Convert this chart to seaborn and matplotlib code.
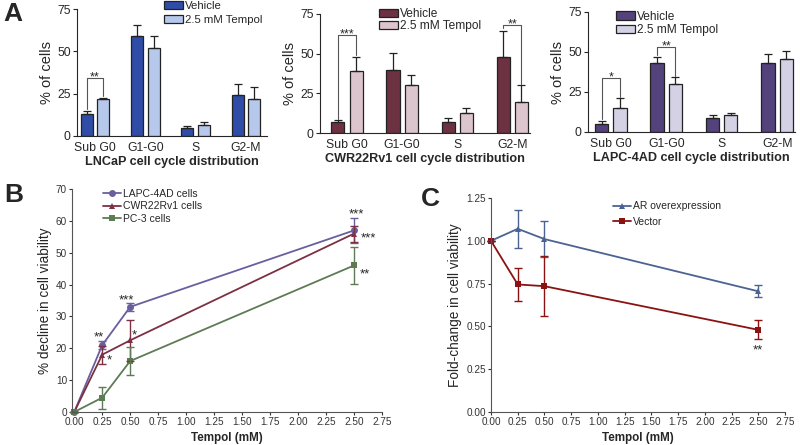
import pandas as pd
import numpy as np
import matplotlib
matplotlib.use("Agg")
import matplotlib.pyplot as plt
import seaborn as sns

sns.set_style("ticks")
plt.rcParams['font.family'] = ['Liberation Sans', 'DejaVu Sans']

# ---- data ----
phases = ['Sub G0', 'G1-G0', 'S', 'G2-M']
treatments = ['Vehicle', '2.5 mM Tempol']

lncap_veh = [13, 59, 4.5, 24]
lncap_veh_err = [2, 6.5, 1.5, 6.5]
lncap_tem = [22, 52, 6.5, 22]
lncap_tem_err = [0.5, 7, 1.5, 7]

cwr_veh = [7, 40, 7, 48]
cwr_veh_err = [1, 10.5, 2.5, 16.5]
cwr_tem = [39, 30, 12.5, 19.5]
cwr_tem_err = [9, 6.5, 3, 10.5]

lapc_veh = [5, 43, 9, 43]
lapc_veh_err = [2, 4, 1.5, 6]
lapc_tem = [15, 30, 10.5, 45.5]
lapc_tem_err = [6, 4.5, 1.5, 5]

# significance brackets: (phase index, top, left leg end, right leg end, stars)
lncap_sig = [(0, 34, 16, 23.5, '**')]
cwr_sig = [(0, 62, 9, 49, '***'), (3, 68, 66, 31, '**')]
lapc_sig = [(0, 34, 8, 22, '*'), (1, 53, 48, 35, '**')]

dose = [0, 0.25, 0.5, 2.5]
b_lines = ['LAPC-4AD cells', 'CWR22Rv1 cells', 'PC-3 cells']
b_lapc = [0, 21, 33, 57]
b_lapc_err = [0, 1.2, 1.2, 4]
b_cwr = [0, 18, 22.5, 56]
b_cwr_err = [0, 2.8, 6.5, 2.5]
b_pc3 = [0, 4.5, 16, 46]
b_pc3_err = [0, 3.5, 4.5, 5.8]
b_stars = [(0.22, 24.5, '**'), (0.31, 17, '*'), (0.47, 36, '***'), (0.54, 25, '*'),
           (2.52, 63, '***'), (2.63, 55.5, '***'), (2.6, 44, '**')]

c_lines = ['AR overexpression', 'Vector']
c_ar = [1.0, 1.07, 1.01, 0.705]
c_ar_err = [0, 0.11, 0.105, 0.035]
c_vec = [1.0, 0.745, 0.735, 0.48]
c_vec_err = [0, 0.095, 0.175, 0.055]
c_stars = [(2.5, 0.375, '**')]

W, H = 800, 445
fig = plt.figure(figsize=(8, 4.45), dpi=100)


def px_axes(l, t, r, b):
    return fig.add_axes([l / W, 1 - b / H, (r - l) / W, (b - t) / H])


def bar_panel(ax, veh, veh_err, tem, tem_err, sig, colors, xlabel, xlim, leg_anchor,
              leg_size, leg_space):
    df = pd.DataFrame({
        'phase': phases * 2,
        'treatment': [treatments[0]] * 4 + [treatments[1]] * 4,
        'pct': veh + tem,
    })
    sns.barplot(data=df, x='phase', y='pct', hue='treatment', hue_order=treatments,
                palette=colors, width=0.66, gap=0.28, edgecolor='#222222',
                linewidth=0.9, errorbar=None, ax=ax, saturation=1)
    centers = []
    for cont, err in zip(ax.containers, [veh_err, tem_err]):
        xs = [p.get_x() + p.get_width() / 2 for p in cont.patches]
        ys = [p.get_height() for p in cont.patches]
        centers.append(xs)
        ax.errorbar(xs, ys, yerr=[np.zeros(len(err)), err], fmt='none',
                    ecolor='#222222', elinewidth=0.9, capsize=3, capthick=0.9, zorder=1)
    for i, top, lo_l, lo_r, s in sig:
        x0, x1 = centers[0][i], centers[1][i]
        ax.plot([x0, x0, x1, x1], [lo_l, top, top, lo_r], color='#555555', lw=0.8)
        ax.annotate(s, ((x0 + x1) / 2, top), xytext=(0, -1.8), textcoords='offset points',
                    ha='center', va='baseline', fontsize=9)
    ax.set_ylim(0, 75)
    ax.set_yticks([0, 25, 50, 75])
    ax.set_xlim(*xlim)
    ax.set_xlabel(xlabel, fontsize=9.1, fontweight='bold', labelpad=1.5)
    ax.set_ylabel('% of cells', fontsize=10.5, labelpad=2)
    ax.tick_params(axis='both', labelsize=8.8, length=3, width=0.8, pad=1.5)
    ax.tick_params(axis='x', length=0, pad=4)
    for sp in ['top', 'right']:
        ax.spines[sp].set_visible(False)
    for sp in ['left', 'bottom']:
        ax.spines[sp].set_linewidth(0.8)
    ax.legend(loc='upper left', bbox_to_anchor=leg_anchor, frameon=False, fontsize=leg_size,
              handlelength=1.6, handleheight=0.7, handletextpad=0.2, labelspacing=leg_space,
              borderaxespad=0, borderpad=0)


ax1 = px_axes(77, 9, 267, 136)
bar_panel(ax1, lncap_veh, lncap_veh_err, lncap_tem, lncap_tem_err, lncap_sig,
          ['#2f4ca6', '#b6c9ec'], 'LNCaP cell cycle distribution', (-0.36, 3.42), (0.46, 1.06),
          8.2, 0.35)
ax2 = px_axes(320, 14, 530, 133)
bar_panel(ax2, cwr_veh, cwr_veh_err, cwr_tem, cwr_tem_err, cwr_sig,
          ['#6d3241', '#dcc5cc'], 'CWR22Rv1 cell cycle distribution', (-0.49, 3.32), (0.28, 1.05),
          8.6, 0.0)
ax3 = px_axes(588, 12, 795, 132)
bar_panel(ax3, lapc_veh, lapc_veh_err, lapc_tem, lapc_tem_err, lapc_sig,
          ['#54427d', '#d5d1e5'], 'LAPC-4AD cell cycle distribution', (-0.41, 3.32), (0.135, 1.01),
          8.6, 0.12)


def line_panel(ax, names, vals, errs, colors, markers, ylabel, ylim, yticks, stars,
               leg_anchor, leg_space):
    df = pd.DataFrame({
        'dose': dose * len(names),
        'val': sum(vals, []),
        'line': sum([[n] * len(dose) for n in names], []),
    })
    sns.lineplot(data=df, x='dose', y='val', hue='line', style='line', hue_order=names,
                 style_order=names, palette=colors, markers=markers, dashes=False,
                 markersize=5, markeredgewidth=0, linewidth=1.3, ax=ax, clip_on=False)
    for v, e, c in zip(vals, errs, colors):
        ax.errorbar(dose, v, yerr=e, fmt='none', ecolor=c, elinewidth=1, capsize=3,
                    capthick=1, clip_on=False)
    for x, y, s in stars:
        ax.annotate(s, (x, y), xytext=(0, -2.2), textcoords='offset points',
                    ha='center', va='center', fontsize=9.5)
    ax.set_xlim(-0.02, 2.75)
    ax.set_xticks(np.arange(0, 2.76, 0.25))
    ax.set_xticklabels(['%.2f' % t for t in np.arange(0, 2.76, 0.25)])
    ax.set_ylim(*ylim)
    ax.set_yticks(yticks)
    ax.set_xlabel('Tempol (mM)', fontsize=8.4, fontweight='bold', labelpad=4)
    ax.set_ylabel(ylabel, fontsize=9.8, labelpad=3)
    ax.tick_params(axis='both', labelsize=7.2, length=2.5, width=0.8, pad=1, colors='#333333')
    for sp in ['top', 'right']:
        ax.spines[sp].set_visible(False)
    for sp in ['left', 'bottom']:
        ax.spines[sp].set_linewidth(0.8)
        ax.spines[sp].set_color('#555555')
    h, l = ax.get_legend_handles_labels()
    ax.legend(h, l, loc='upper left', bbox_to_anchor=leg_anchor, frameon=False, fontsize=7.5,
              handlelength=1.7, handletextpad=0.25, labelspacing=leg_space,
              borderaxespad=0, borderpad=0)


axB = px_axes(72, 189, 382, 412)
line_panel(axB, b_lines, [b_lapc, b_cwr, b_pc3], [b_lapc_err, b_cwr_err, b_pc3_err],
           ['#6a5e9e', '#7b3143', '#5d7b54'], ['o', '^', 's'],
           '% decline in cell viability', (0, 70), np.arange(0, 71, 10), b_stars,
           (0.1, 1.0), 0.22)

axC = px_axes(491, 198, 785, 412)
line_panel(axC, c_lines, [c_ar, c_vec], [c_ar_err, c_vec_err],
           ['#4c6392', '#8c1212'], ['^', 's'],
           'Fold-change in cell viability', (0, 1.25), [0, 0.25, 0.5, 0.75, 1.0, 1.25],
           c_stars, (0.415, 0.985), 0.55)
axC.set_xlim(0, 2.75)

fig.text(3 / W, 1 - 14 / H, 'A', fontsize=19, fontweight='bold', va='center', ha='left')
fig.text(4 / W, 1 - 195 / H, 'B', fontsize=19, fontweight='bold', va='center', ha='left')
fig.text(421 / W, 1 - 199 / H, 'C', fontsize=19, fontweight='bold', va='center', ha='left')

fig.savefig('out.png', dpi=100)
